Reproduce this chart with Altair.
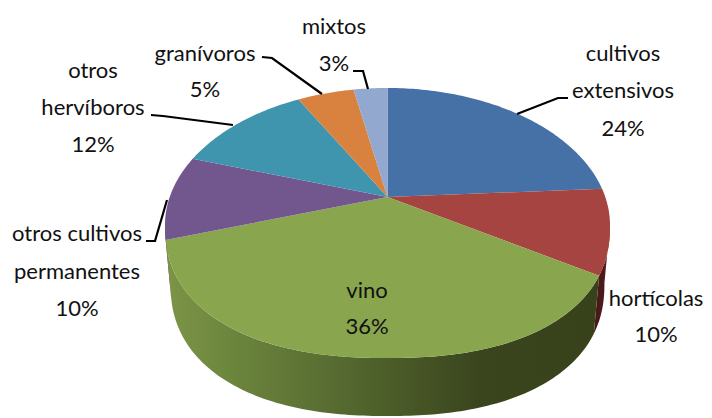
import math
import altair as alt
import pandas as pd

# --- chart values -----------------------------------------------------------
categories = ["cultivos extensivos", "hortícolas", "vino", "otros cultivos permanentes",
              "otros hervíboros", "granívoros", "mixtos"]
shares = [24, 10, 36, 10, 12, 5, 3]
slice_colors = ["#4571a6", "#a64441", "#89a54e", "#72578f", "#3f94ae", "#d98240", "#93a8cf"]
label_lines = [["cultivos", "extensivos", "24%"], ["hortícolas", "10%"], ["vino", "36%"],
               ["otros cultivos", "permanentes", "10%"], ["otros", "hervíboros", "12%"],
               ["granívoros", "5%"], ["mixtos", "3%"]]

# --- layout (page pixels) ---------------------------------------------------
M = 8
CX, CY, RX, RY_TOP, RY_BOT = 387.5, 225, 222.5, 137, 133
APEX_Y = 197
A = (CY - APEX_Y) / RY_TOP
N = 2.3
DEPTH, SHRINK = 58, 0.975
label_pos = [(623, [54, 91, 129]), (656, [299, 335]), (367, [291, 327]),
             (77, [234, 272, 309]), (93, [71, 108, 145]), (205, [54, 90]), (334, [27, 64])]
leaders = [[(517, 114), (558, 98), (568, 98)],
           [(151, 115), (163, 116), (233, 125)],
           [(262, 57), (272, 58), (322, 94)],
           [(353, 71), (363, 71), (368, 89)],
           [(146, 241), (155, 241), (167, 200)]]


def rim(deg):
    """Point of the pie rim for an angle clockwise from the top, in perspective."""
    t = math.radians(deg)
    X, Y = math.sin(t), math.cos(t)
    d = 1 + A * Y
    X, Y = X * math.sqrt(1 - A * A) / d, (Y + A) / d
    if Y < 0:
        s = (abs(X) ** N + abs(Y) ** N) ** (-1 / N)
        return (CX + RX * s * X - M, CY - RY_BOT * s * Y - M)
    return (CX + RX * X - M, CY - RY_TOP * Y - M)


def arc(a0, a1):
    n = max(2, int(abs(a1 - a0)) + 1)
    return [rim(a0 + (a1 - a0) * i / n) for i in range(n + 1)]


def low(p):
    return (CX - M + SHRINK * (p[0] - CX + M), p[1] + DEPTH)


def feature(pts, name):
    ring = [list(p) for p in pts] + [list(pts[0])]
    return {"type": "Feature", "properties": {"name": name},
            "geometry": {"type": "Polygon", "coordinates": [ring]}}


def side(a0, a1, name):
    top = arc(a0, a1)
    return feature(top + [low(p) for p in reversed(top)], name)


proj = alt.Projection(type="identity", scale=1, translate=[0, 0])
edges = [0]
for v in shares:
    edges.append(edges[-1] + v * 3.6)

tops = [feature([(CX - M, APEX_Y - M)] + arc(edges[i], edges[i + 1]), categories[i])
        for i in range(len(categories))]
lim = math.degrees(math.acos(-A))

green_side = alt.Gradient(gradient="linear", x1=0, x2=1, y1=0, y2=0, stops=[
    alt.GradientStop(offset=0, color="#7c9446"), alt.GradientStop(offset=0.12, color="#6f893f"),
    alt.GradientStop(offset=0.40, color="#566a30"), alt.GradientStop(offset=0.72, color="#3a451d"),
    alt.GradientStop(offset=1, color="#37421b")])
red_side = alt.Gradient(gradient="linear", x1=0, x2=1, y1=0, y2=0, stops=[
    alt.GradientStop(offset=0, color="#45191a"), alt.GradientStop(offset=0.6, color="#4e1a19"),
    alt.GradientStop(offset=1, color="#7a2a28")])

layers = [
    alt.Chart(alt.Data(values=[side(edges[1] if edges[1] > lim else lim, edges[2], "r")]))
    .mark_geoshape(fill=red_side, stroke=None).project(**proj.to_dict()),
    alt.Chart(alt.Data(values=[side(edges[3], 360 - lim, "p")]))
    .mark_geoshape(fill="#4d3a63", stroke=None).project(**proj.to_dict()),
    alt.Chart(alt.Data(values=[side(edges[2], edges[3], "g")]))
    .mark_geoshape(fill=green_side, stroke=None).project(**proj.to_dict()),
    alt.Chart(alt.Data(values=tops)).mark_geoshape(stroke=None).encode(
        color=alt.Color("properties.name:N", legend=None,
                        scale=alt.Scale(domain=categories, range=slice_colors))
    ).project(**proj.to_dict()),
]

line_rows = [{"x": x - M, "y": y - M, "k": i, "o": j}
             for i, pts in enumerate(leaders) for j, (x, y) in enumerate(pts)]
text_rows = [{"x": px - M, "y": py - M, "t": t}
             for lines, (px, ys) in zip(label_lines, label_pos) for t, py in zip(lines, ys)]

layers.append(alt.Chart(pd.DataFrame(line_rows)).mark_line(color="#000000", strokeWidth=2.2).encode(
    x=alt.X("x:Q", scale=None), y=alt.Y("y:Q", scale=None), detail="k:N", order="o:Q"))
layers.append(alt.Chart(pd.DataFrame(text_rows)).mark_text(
    font="Lato", fontSize=22, color="#111111", align="center", baseline="middle").encode(
    x=alt.X("x:Q", scale=None), y=alt.Y("y:Q", scale=None), text="t:N"))

chart = alt.layer(*layers).properties(width=696, height=412, padding=0, background="#ffffff",
                                      autosize=alt.AutoSizeParams(type="none")
                                      ).configure_view(stroke=None)
chart.save("out.html", embed_options={"renderer": "svg", "actions": False})
